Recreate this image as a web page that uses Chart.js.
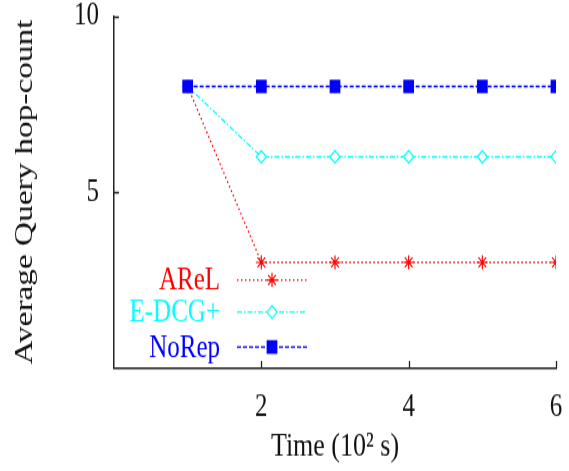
<!DOCTYPE html>
<html>
<head>
<meta charset="utf-8">
<script src="https://cdn.jsdelivr.net/npm/chart.js@4/dist/chart.umd.min.js"></script>
<style>
  html, body { margin: 0; padding: 0; background: #fff; }
  canvas { display: block; }
</style>
</head>
<body>
<!-- drawn at 569x368 and shown at 569x471: the figure is taller than its text is wide -->
<canvas id="plot" width="569" height="368" style="width:569px;height:471px"></canvas>
<script>
// Average query hop-count over time for three replication schemes
const times = [1, 2, 3, 4, 5, 6];          // time, in 10^2 s
const arelHops = [8, 3, 3, 3, 3, 3];
const edcgHops = [8, 6, 6, 6, 6, 6];
const norepHops = [8, 8, 8, 8, 8, 8];
const xTickValues = [2, 4, 6];
const yTickValues = [5, 10];

const SERIF = '"Liberation Serif", "Times New Roman", serif';

function toPoints(xs, ys) {
  return xs.map((x, i) => ({ x: x, y: ys[i] }));
}

// Inward tick marks on the left and bottom axes
const innerTicks = {
  id: 'innerTicks',
  afterDraw(chart) {
    const { ctx, chartArea: a, scales } = chart;
    ctx.save();
    ctx.strokeStyle = '#222';
    ctx.lineWidth = 1.3;
    ctx.beginPath();
    yTickValues.forEach(v => {
      const y = Math.round(scales.y.getPixelForValue(v)) + 0.5;
      ctx.moveTo(a.left, y);
      ctx.lineTo(a.left + 5, y);
    });
    xTickValues.forEach(v => {
      const x = Math.round(scales.x.getPixelForValue(v)) + 0.5;
      ctx.moveTo(x, a.bottom);
      ctx.lineTo(x, a.bottom - 5.5);
    });
    ctx.stroke();
    ctx.restore();
  }
};

// Key inside the plot: label, then a line sample with its marker
const sampleKey = {
  id: 'sampleKey',
  afterDatasetsDraw(chart) {
    const { ctx, chartArea: a } = chart;
    const textRight = a.left + 106;
    const lineStart = a.left + 123;
    const lineEnd = a.left + 193;
    const rowYs = [a.bottom - 68.7, a.bottom - 43.7, a.bottom - 16.4];
    const sets = chart.data.datasets.slice().sort((p, q) => p.keyRow - q.keyRow);
    ctx.save();
    ctx.font = '25px ' + SERIF;
    ctx.textAlign = 'right';
    ctx.textBaseline = 'middle';
    sets.forEach((ds, i) => {
      const y = rowYs[i];
      ctx.fillStyle = ds.borderColor;
      ctx.fillText(ds.label, textRight, y + 1);
      ctx.save();
      ctx.strokeStyle = ds.borderColor;
      ctx.lineWidth = ds.borderWidth;
      ctx.setLineDash(ds.borderDash);
      ctx.beginPath();
      ctx.moveTo(lineStart, y);
      ctx.lineTo(lineEnd, y);
      ctx.stroke();
      ctx.restore();
      ctx.save();
      ctx.strokeStyle = ds.pointBorderColor;
      ctx.fillStyle = ds.pointBackgroundColor;
      ctx.lineWidth = ds.pointBorderWidth;
      Chart.helpers.drawPoint(ctx, {
        pointStyle: ds.pointStyle,
        radius: ds.pointRadius,
        rotation: 0,
        borderWidth: ds.pointBorderWidth
      }, (lineStart + lineEnd) / 2, y);
      ctx.restore();
    });
    ctx.restore();
  }
};

new Chart(document.getElementById('plot'), {
  type: 'scatter',
  data: {
    datasets: [
      {
        label: 'AReL',
        keyRow: 0,
        order: 3,
        data: toPoints(times, arelHops),
        showLine: true,
        borderColor: '#ff0000',
        borderWidth: 1.3,
        borderDash: [1.5, 2.5],
        pointStyle: 'star',
        pointRadius: 5.5,
        pointBorderColor: '#ff0000',
        pointBackgroundColor: '#ff0000',
        pointBorderWidth: 1.2
      },
      {
        label: 'E-DCG+',
        keyRow: 1,
        order: 2,
        data: toPoints(times, edcgHops),
        showLine: true,
        borderColor: '#00ffff',
        borderWidth: 1.3,
        borderDash: [5, 2, 1.5, 2],
        pointStyle: 'rectRot',
        pointRadius: 5,
        pointBorderColor: '#00ffff',
        pointBackgroundColor: '#ffffff',
        pointBorderWidth: 1.2
      },
      {
        label: 'NoRep',
        keyRow: 2,
        order: 1,
        data: toPoints(times, norepHops),
        showLine: true,
        borderColor: '#0000ff',
        borderWidth: 1.3,
        borderDash: [4, 2],
        pointStyle: 'rect',
        pointRadius: 7.6,
        pointBorderColor: '#0000ff',
        pointBackgroundColor: '#0000ff',
        pointBorderWidth: 0
      }
    ]
  },
  options: {
    responsive: false,
    animation: false,
    events: [],
    layout: { padding: { top: 12.5, right: 13, left: 0, bottom: 0 } },
    plugins: {
      legend: { display: false },
      tooltip: { enabled: false }
    },
    scales: {
      x: {
        type: 'linear',
        min: 0,
        max: 6,
        afterBuildTicks: s => { s.ticks = xTickValues.map(v => ({ value: v })); },
        afterFit: s => { s.height = 80.5; s.paddingLeft = 0; s.paddingRight = 0; },
        grid: { display: false, drawTicks: false },
        border: { display: true, color: '#222', width: 1.5 },
        ticks: {
          color: '#111',
          padding: 16,
          maxRotation: 0,
          font: { family: SERIF, size: 25 }
        },
        title: {
          display: true,
          text: 'Time (10² s)',
          color: '#111',
          padding: { top: 0, bottom: 3.5 },
          font: { family: SERIF, size: 26 }
        }
      },
      y: {
        type: 'linear',
        min: 0,
        max: 10,
        afterBuildTicks: s => { s.ticks = yTickValues.map(v => ({ value: v })); },
        afterFit: s => { s.width = 114; s.paddingTop = 0; s.paddingBottom = 0; },
        grid: { display: false, drawTicks: false },
        border: { display: true, color: '#222', width: 1.5 },
        ticks: {
          color: '#111',
          padding: 15,
          font: { family: SERIF, size: 25 }
        },
        title: {
          display: true,
          text: 'Average Query hop-count',
          color: '#111',
          padding: { top: 9.5, bottom: 0 },
          font: { family: SERIF, size: 26 }
        }
      }
    }
  },
  plugins: [innerTicks, sampleKey]
});
</script>
</body>
</html>
